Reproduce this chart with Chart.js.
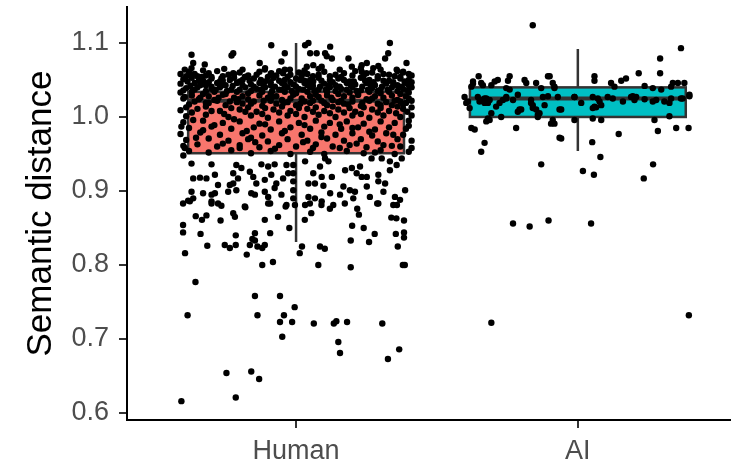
<!DOCTYPE html>
<html>
<head>
<meta charset="utf-8">
<script src="https://cdn.jsdelivr.net/npm/chart.js@4.4.1/dist/chart.umd.min.js"></script>
<style>
  html, body { margin: 0; padding: 0; background: #fff; }
  #wrap { width: 734px; height: 470px; }
</style>
</head>
<body>
<div id="wrap"><canvas id="plot" width="734" height="470"></canvas></div>
<script>
// groups on the x axis
const groups = ['Human', 'AI'];
const yTicks = [0.6, 0.7, 0.8, 0.9, 1.0, 1.1];

// box summaries
const boxLow = [0.831, 0.954];
const boxQ1 = [0.951, 1.000];
const boxMedian = [1.022, 1.025];
const boxQ3 = [1.034, 1.040];
const boxHigh = [1.100, 1.092];
const boxFill = ['#F8766D', '#00BFC4'];

// jittered points: [offset from group centre, semantic distance]
const humanPoints = [
  // sparse tail
  [-.407,.616],[-.214,.621],[-.247,.654],[-.159,.656],[-.131,.646],[-.385,.732],[-.357,.777],[-.146,.758],
  [-.137,.732],[-.057,.758],[-.043,.732],[-.057,.723],[-.014,.723],[-.005,.743],[-.049,.703],[.063,.721],
  [.134,.721],[.143,.724],[.181,.723],[.150,.696],[.156,.681],[.306,.721],[.366,.686],[.326,.673],
  [-.394,.816],[-.120,.800],[-.082,.804],[.079,.800],[.194,.797],[.379,.800],[.386,.800],[-.175,.814],
  [-.315,.826],[-.253,.827],[-.235,.823],[-.214,.827],[-.164,.827],[-.146,.833],[-.137,.825],[-.111,.827],
  [-.120,.823],[.013,.816],[.021,.825],[.085,.825],[.102,.822],[.194,.833],[.259,.831],[.361,.825],
  [.383,.837],[-.401,.844],[-.401,.854],[-.356,.866],[-.339,.842],[-.334,.861],[-.318,.867],[-.268,.860],
  [-.223,.870],[-.217,.865],[-.180,.878],[-.214,.840],[-.146,.843],[-.155,.835],[-.111,.861],[-.092,.843],
  [-.064,.865],[-.024,.850],[.031,.861],[.054,.870],[.120,.876],[.199,.853],[.240,.850],[.279,.842],
  [.354,.842],[.383,.844],[.383,.860],[.338,.864],[.356,.863],[.223,.868],[.217,.876],[.288,.883],
  [.358,.881],[.173,.883],[.090,.881],[.049,.883],[-.037,.879],[-.092,.883],[-.300,.883],[-.377,.886],
  // just below the box, left half
  [-.371,.937],[-.300,.936],[-.212,.935],[-.194,.931],[-.223,.924],[-.164,.926],[-.123,.936],[-.099,.933],
  [-.076,.936],[-.034,.935],[-.365,.917],[-.341,.918],[-.318,.917],[-.288,.922],[-.277,.908],[-.235,.908],
  [-.223,.910],[-.206,.917],[-.152,.919],[-.141,.910],[-.111,.915],[-.088,.922],[-.070,.910],[-.046,.917],
  [-.028,.924],[-.371,.899],[-.330,.897],[-.300,.895],[-.288,.897],[-.241,.899],[-.212,.901],[-.159,.897],
  [-.146,.895],[-.111,.899],[-.099,.892],[-.076,.904],[-.052,.895],[-.401,.883],[-.383,.887],[-.365,.890],
  [-.300,.886],[-.277,.883],[-.265,.880],[-.182,.879],[-.099,.883],[-.034,.881],[-.407,.987],[-.395,.958],
  // just below the box, right half
  [-.010,.935],[-.010,.924],[-.010,.913],[-.010,.901],[-.010,.890],[-.004,.881],[.032,.940],[.061,.924],
  [.085,.933],[.103,.944],[.115,.940],[.091,.919],[.044,.910],[.067,.910],[.127,.919],[.174,.928],
  [.198,.931],[.215,.924],[.233,.919],[.251,.919],[.227,.933],[.268,.944],[.304,.944],[.292,.922],
  [.333,.928],[.333,.940],[.357,.935],[.375,.944],[.097,.907],[.121,.897],[.168,.906],[.191,.901],
  [.209,.899],[.251,.906],[.292,.913],[.316,.910],[.310,.899],[.351,.892],[.387,.901],[.044,.892],
  [.067,.890],[.091,.886],[.156,.895],[.203,.890],[.262,.892],[.292,.883],[.369,.888],[.345,.881],
  [.032,.881],[.132,.881],
  // top fringe
  [-.088,1.097],[-.371,1.084],[-.223,1.086],[-.229,1.083],[-.040,1.086],[-.365,1.073],[-.371,1.066],[-.324,1.071],
  [-.129,1.073],[-.052,1.075],[-.111,1.064],[-.377,1.059],[-.223,1.059],[-.182,1.054],[-.300,1.054],[-.265,1.052],
  [-.336,1.054],[-.088,1.059],[-.046,1.059],[-.022,1.064],[.032,1.097],[.044,1.100],[.050,1.086],[.073,1.086],
  [.103,1.086],[.121,1.095],[.127,1.079],[.109,1.082],[.333,1.100],[.327,1.086],[.316,1.079],[.186,1.079],
  [.198,1.068],[.233,1.070],[.251,1.073],[.233,1.061],[.274,1.066],[.292,1.069],[.392,1.073],[.038,1.068],
  [.061,1.070],[.091,1.068],[.026,1.059],[.050,1.050],[.061,1.048],[.357,1.064],[.380,1.061],
  // dense band above the box
  [-.395,1.064],[-.33,1.063],[-.255,1.065],[-.19,1.064],[-.11,1.066],[-.04,1.064],[.03,1.063],[.08,1.065],
  [.155,1.064],[.23,1.066],[.30,1.064],[.36,1.062],
  [-.41,1.058],[-.38,1.061],[-.35,1.055],[-.31,1.059],[-.28,1.062],[-.24,1.057],[-.2,1.060],[-.17,1.056],
  [-.13,1.061],[-.09,1.058],[-.06,1.062],[-.02,1.057],[.01,1.060],[.06,1.055],[.1,1.061],[.14,1.057],
  [.17,1.059],[.21,1.062],[.24,1.056],[.27,1.060],[.31,1.058],[.35,1.055],[.38,1.060],[.41,1.056],
  [-.39,1.055],[-.36,1.058],[-.32,1.056],[-.26,1.055],[-.22,1.058],[-.18,1.054],[-.14,1.057],[-.10,1.054],
  [-.07,1.056],[-.03,1.054],[.02,1.056],[.04,1.058],[.08,1.057],[.12,1.055],[.16,1.054],[.20,1.056],
  [.25,1.059],[.29,1.055],[.33,1.057],[.37,1.054],[.40,1.058],
  [-.40,1.051],[-.37,1.053],[-.33,1.049],[-.30,1.052],[-.26,1.049],[-.22,1.053],[-.19,1.050],[-.15,1.052],
  [-.11,1.048],[-.08,1.053],[-.04,1.050],[0,1.052],[.03,1.049],[.08,1.053],[.12,1.050],[.15,1.052],
  [.19,1.048],[.23,1.053],[.26,1.050],[.29,1.052],[.33,1.049],[.37,1.052],[.40,1.050],
  [-.385,1.048],[-.345,1.049],[-.31,1.047],[-.27,1.048],[-.235,1.050],[-.20,1.048],[-.165,1.049],[-.125,1.050],
  [-.09,1.047],[-.06,1.049],[-.02,1.047],[.015,1.050],[.05,1.048],[.09,1.049],[.13,1.047],[.17,1.050],
  [.205,1.048],[.245,1.049],[.275,1.047],[.31,1.049],[.345,1.047],[.385,1.048],[.41,1.047],
  [-.41,1.045],[-.36,1.046],[-.32,1.043],[-.28,1.046],[-.25,1.043],[-.21,1.046],[-.16,1.044],[-.13,1.046],
  [-.09,1.043],[-.05,1.046],[-.01,1.044],[.03,1.046],[.06,1.042],[.10,1.045],[.14,1.043],[.18,1.046],
  [.21,1.044],[.25,1.046],[.28,1.043],[.32,1.045],[.36,1.043],[.39,1.046],
  [-.375,1.042],[-.34,1.043],[-.30,1.041],[-.26,1.043],[-.225,1.042],[-.19,1.043],[-.15,1.041],[-.115,1.043],
  [-.075,1.041],[-.04,1.043],[0,1.041],[.04,1.043],[.085,1.041],[.115,1.043],[.155,1.041],[.195,1.043],
  [.235,1.041],[.265,1.043],[.305,1.041],[.345,1.043],[.375,1.041],[.40,1.043],
  [-.39,1.039],[-.35,1.040],[-.30,1.038],[-.27,1.040],[-.23,1.037],[-.18,1.040],[-.14,1.038],[-.11,1.040],
  [-.06,1.037],[-.03,1.040],[.01,1.038],[.05,1.040],[.08,1.037],[.12,1.040],[.16,1.038],[.20,1.040],
  [.23,1.036],[.27,1.039],[.30,1.037],[.34,1.040],[.38,1.038],[.41,1.040],
  [-.40,1.036],[-.36,1.037],[-.32,1.035],[-.285,1.037],[-.245,1.035],[-.20,1.037],[-.16,1.035],[-.125,1.037],
  [-.085,1.035],[-.05,1.037],[-.015,1.035],[.025,1.037],[.065,1.035],[.105,1.037],[.14,1.035],[.18,1.037],
  [.215,1.035],[.255,1.037],[.29,1.035],[.325,1.037],[.36,1.035],[.395,1.036],
  [-.41,1.033],[-.37,1.034],[-.33,1.031],[-.29,1.034],[-.25,1.031],[-.21,1.034],[-.17,1.032],[-.12,1.034],
  [-.09,1.031],[-.04,1.034],[0,1.032],[.04,1.034],[.07,1.030],[.11,1.034],[.15,1.031],[.19,1.033],
  [.22,1.030],[.26,1.034],[.30,1.032],[.33,1.034],[.37,1.031],[.40,1.033],
  // inside the box
  [-.37,1.029],[-.31,1.028],[-.26,1.030],[-.19,1.028],[-.13,1.029],[-.07,1.028],[-.01,1.030],[.05,1.028],
  [.11,1.029],[.17,1.028],[.22,1.030],[.28,1.028],[.34,1.029],[.39,1.028],
  [-.40,1.025],[-.34,1.026],[-.29,1.023],[-.22,1.026],[-.17,1.024],[-.10,1.026],[-.05,1.023],[.02,1.025],
  [.08,1.027],[.13,1.023],[.20,1.026],[.25,1.024],[.31,1.026],[.36,1.023],[.40,1.025],
  [-.395,1.027],[-.345,1.024],[-.32,1.019],[-.275,1.026],[-.235,1.021],[-.205,1.024],[-.16,1.018],[-.115,1.022],
  [-.085,1.027],[-.045,1.019],[-.02,1.025],[.015,1.018],[.06,1.022],[.10,1.019],[.125,1.026],[.16,1.022],
  [.185,1.017],[.235,1.019],[.27,1.025],[.30,1.016],[.35,1.022],[.38,1.017],[.41,1.022],
  [-.36,1.021],[-.28,1.022],[-.21,1.020],[-.15,1.021],[-.09,1.022],[-.03,1.020],[.03,1.021],[.09,1.022],
  [.15,1.020],[.20,1.021],[.26,1.022],[.32,1.020],[.37,1.021],
  [-.38,1.017],[-.31,1.019],[-.25,1.016],[-.19,1.018],[-.12,1.015],[-.07,1.018],[0,1.016],[.05,1.019],
  [.11,1.016],[.17,1.018],[.23,1.015],[.29,1.018],[.34,1.016],[.39,1.019],
  [-.39,1.013],[-.32,1.014],[-.23,1.012],[-.17,1.013],[-.11,1.012],[-.05,1.014],[.01,1.012],[.07,1.013],
  [.13,1.014],[.19,1.012],[.24,1.013],[.30,1.012],[.36,1.014],[.41,1.013],
  [-.41,1.009],[-.35,1.011],[-.27,1.008],[-.20,1.010],[-.14,1.007],[-.08,1.010],[-.02,1.008],[.04,1.011],
  [.10,1.008],[.15,1.010],[.21,1.007],[.27,1.010],[.33,1.008],[.38,1.011],
  [-.37,1.006],[-.30,1.008],[-.255,1.004],[-.18,1.007],[-.12,1.004],[-.06,1.006],[0,1.004],[.06,1.007],
  [.12,1.005],[.17,1.006],[.23,1.004],[.29,1.006],[.355,1.005],[.395,1.007],
  [-.39,1.001],[-.32,1.003],[-.24,1.000],[-.16,1.002],[-.10,.999],[-.03,1.002],[.03,1.000],[.08,1.003],
  [.14,1.000],[.20,1.002],[.26,.999],[.31,1.002],[.37,1.000],[.41,1.002],
  [-.365,.996],[-.29,.989],[-.22,.997],[-.175,.981],[-.11,.990],[-.04,.981],[.03,.989],[.09,.973],
  [.155,.990],[.26,.980],[.345,.976],[.40,.988],[-.355,.972],[-.26,.964],[-.145,.966],[-.075,.957],
  [.025,.966],[.155,.958],[.215,.964],[.34,.961],[-.40,.948],[-.20,.958],[.28,.952],[.41,.958],
  [-.33,.982],[.06,.958],[-.16,.972],[.20,.985],
  [-.40,.993],[-.33,.995],[-.26,.992],[-.20,.994],[-.13,.991],[-.06,.994],[.01,.992],[.07,.995],
  [.12,.992],[.18,.994],[.24,.991],[.30,.994],[.35,.992],[.40,.995],
  [-.38,.985],[-.30,.987],[-.23,.984],[-.15,.986],[-.09,.983],[-.02,.986],[.05,.984],[.10,.987],
  [.16,.984],[.22,.986],[.28,.983],[.33,.986],[.39,.984],
  [-.41,.977],[-.34,.979],[-.27,.976],[-.19,.978],[-.12,.975],[-.05,.978],[.02,.976],[.09,.979],
  [.14,.976],[.20,.978],[.27,.975],[.32,.978],[.38,.976],
  [-.39,.969],[-.31,.971],[-.24,.968],[-.17,.970],[-.10,.967],[-.03,.970],[.04,.968],[.11,.971],
  [.17,.968],[.23,.970],[.29,.967],[.36,.970],[.41,.968],
  [-.40,.961],[-.35,.963],[-.28,.960],[-.20,.962],[-.13,.959],[-.06,.962],[0,.960],[.07,.963],
  [.13,.960],[.19,.962],[.25,.959],[.31,.962],[.37,.960],
  [-.38,.954],[-.31,.952],[-.23,.955],[-.16,.951],[-.09,.954],[-.02,.950],[.05,.953],[.10,.950],
  [.18,.954],[.24,.951],[.30,.955],[.35,.950],[.40,.953]
];

const aiPoints = [
  [-.160,1.124],[.366,1.093],[.292,1.079],[.292,1.059],[.216,1.059],[.059,1.055],[.059,1.049],[-.352,1.055],
  [-.242,1.055],[-.248,1.049],[-.106,1.055],[-.189,1.050],[-.148,1.046],[-.372,1.048],[-.343,1.046],[-.295,1.048],
  [-.307,1.043],[-.089,1.046],[-.083,1.041],[.118,1.046],[.130,1.041],[.154,1.049],[.171,1.052],[.237,1.042],
  [.266,1.039],[.337,1.046],[.355,1.046],[.378,1.046],[.296,1.037],[.331,1.041],
  [-.372,1.045],[-.378,1.041],[-.337,1.043],[-.284,1.050],[-.254,1.039],[-.242,1.037],[-.183,1.046],[-.130,1.039],
  [-.100,1.055],[-.083,1.039],
  [-.402,1.027],[-.396,1.019],[-.384,1.012],[-.355,1.027],[-.331,1.025],[-.313,1.023],[-.349,1.021],[-.319,1.019],
  [-.290,1.014],[-.272,1.000],[-.307,1.005],[-.313,.996],[-.325,.994],[-.254,1.027],[-.230,1.023],[-.207,1.010],
  [-.213,1.030],[-.166,1.023],[-.160,1.016],[-.148,1.010],[-.142,1.003],[-.124,1.027],[-.106,1.028],[-.071,1.027],
  [-.118,1.016],[-.059,1.010],[-.012,1.027],[.012,1.019],[.053,1.027],[.077,1.021],[.059,1.014],[.106,1.027],
  [.124,1.025],[.160,1.021],[.195,1.028],[.207,1.027],[.237,1.024],[.278,1.023],[.307,1.021],[.366,1.025],
  [.396,1.028],[.083,1.016],[.065,1.013],[.053,1.012],[.189,1.027],[.201,1.023],[.266,1.021],[.331,1.025],
  [.325,1.019],[.372,1.025],[.396,1.030],[.325,1.001],[.071,1.025],
  [-.390,1.021],[-.343,1.023],[-.325,1.025],[-.331,1.019],[-.278,1.019],[-.319,.998],[-.266,1.023],[-.254,1.025],
  [-.201,1.010],[-.213,1.007],[-.166,1.019],[-.160,1.012],[-.136,1.005],[-.065,1.010],[-.142,1.000],[-.089,.996],
  [-.083,.991],[-.059,.971],[-.012,.996],[-.012,1.027],
  [-.378,.985],[-.366,.983],[-.219,.985],[-.331,.965],[-.343,.953],[-.065,.972],[.053,.998],[.083,.996],
  [.051,.966],[.080,.946],[.145,.977],[.272,.996],[.284,.981],[.349,.985],[.393,.985],[-.130,.936],
  [.018,.927],[.057,.922],[.234,.917],[.267,.936],[-.095,.991],
  [-.230,.856],[-.171,.852],[-.104,.860],[.047,.856],[-.307,.722],[.394,.732]
];

const BOX_HALF = 0.383;

const boxPlugin = {
  id: 'boxes',
  beforeDatasetsDraw(chart) {
    const { ctx, scales: { x, y } } = chart;
    ctx.save();
    ctx.strokeStyle = '#333333';
    groups.forEach((g, i) => {
      const pos = i + 1;
      const xc = x.getPixelForValue(pos);
      const xl = x.getPixelForValue(pos - BOX_HALF);
      const xr = x.getPixelForValue(pos + BOX_HALF);
      const yq1 = y.getPixelForValue(boxQ1[i]);
      const yq3 = y.getPixelForValue(boxQ3[i]);
      // whiskers
      ctx.lineWidth = 2.5;
      ctx.beginPath();
      ctx.moveTo(xc, y.getPixelForValue(boxHigh[i]));
      ctx.lineTo(xc, yq3);
      ctx.moveTo(xc, yq1);
      ctx.lineTo(xc, y.getPixelForValue(boxLow[i]));
      ctx.stroke();
      // box
      ctx.fillStyle = boxFill[i];
      ctx.fillRect(xl, yq3, xr - xl, yq1 - yq3);
      ctx.strokeRect(xl, yq3, xr - xl, yq1 - yq3);
      // median
      ctx.lineWidth = 4;
      ctx.beginPath();
      const ym = y.getPixelForValue(boxMedian[i]);
      ctx.moveTo(xl, ym);
      ctx.lineTo(xr, ym);
      ctx.stroke();
    });
    ctx.restore();
  }
};

const toXY = (pts, pos) => pts.map(p => ({ x: pos + p[0], y: p[1] }));

new Chart(document.getElementById('plot'), {
  type: 'scatter',
  data: {
    datasets: [
      { label: 'Human', data: toXY(humanPoints, 1), backgroundColor: '#000', borderWidth: 0, pointRadius: 3.2 },
      { label: 'AI', data: toXY(aiPoints, 2), backgroundColor: '#000', borderWidth: 0, pointRadius: 3.2 }
    ]
  },
  options: {
    responsive: false,
    animation: false,
    events: [],
    layout: { padding: { top: 7, right: 0, left: 0, bottom: 0 } },
    plugins: {
      legend: { display: false },
      tooltip: { enabled: false }
    },
    scales: {
      x: {
        type: 'linear',
        min: 0.4,
        max: 2.54,
        afterBuildTicks: s => { s.ticks = [{ value: 1 }, { value: 2 }]; },
        afterFit: s => { s.height = 50; s.paddingLeft = 0; s.paddingRight = 0; },
        ticks: {
          callback: v => groups[v - 1],
          font: { family: 'Liberation Sans', size: 27 },
          color: '#4D4D4D',
          padding: 7
        },
        grid: { drawOnChartArea: false, drawTicks: true, tickLength: 8, color: '#333333', lineWidth: 2 },
        border: { display: true, color: '#000', width: 2 }
      },
      y: {
        min: 0.5905,
        max: 1.1486,
        afterBuildTicks: s => { s.ticks = yTicks.map(v => ({ value: v })); },
        afterFit: s => { s.width = 127; s.paddingTop = 0; s.paddingBottom = 0; },
        ticks: {
          callback: v => v.toFixed(1),
          font: { family: 'Liberation Sans', size: 27 },
          color: '#4D4D4D',
          padding: 10
        },
        grid: { drawOnChartArea: false, drawTicks: true, tickLength: 8, color: '#333333', lineWidth: 2 },
        border: { display: true, color: '#000', width: 2 },
        title: {
          display: true,
          text: 'Semantic distance',
          font: { family: 'Liberation Sans', size: 35 },
          color: '#000',
          padding: { top: 20, bottom: 0 }
        }
      }
    }
  },
  plugins: [boxPlugin]
});
</script>
</body>
</html>
